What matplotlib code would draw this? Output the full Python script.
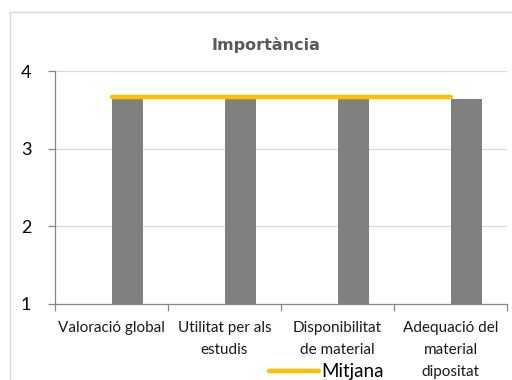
import matplotlib.pyplot as plt
import matplotlib.patches as patches
import numpy as np

# data
categories = ["Valoració global", "Utilitat per als\nestudis",
              "Disponibilitat\nde material", "Adequació del\nmaterial\ndipositat"]
valors = [3.64, 3.65, 3.65, 3.64]
mitjana = [3.66, 3.66, 3.66, 3.66]
yticks = [1, 2, 3, 4]

plt.rcParams['font.family'] = ['Lato', 'DejaVu Sans']

fig = plt.figure(figsize=(5.12, 3.8), dpi=100)
ax = fig.add_axes([55 / 512, 1 - 304 / 380, (507 - 55) / 512, (304 - 71) / 380])

x = np.arange(len(categories))
ax.bar(x, [v - 1 for v in valors], bottom=1, width=0.283, align='edge',
       color='#808080', zorder=2)
line, = ax.plot(x, mitjana, color='#ffc000', lw=3.2, solid_capstyle='round', zorder=3)

ax.set_xlim(-0.5, len(categories) - 0.5)
ax.set_ylim(1, 4)
ax.set_yticks(yticks)
ax.set_yticklabels([str(t) for t in yticks], fontsize=13, color='black')
ax.yaxis.grid(True, color='#d9d9d9', lw=0.9, zorder=0)
ax.tick_params(axis='y', length=5, width=0.9, color='#868686', pad=12)

ax.set_xticks(x)
ax.set_xticklabels(categories, fontsize=11, color='#1a1a1a', linespacing=1.75, va='top')
ax.set_xticks(np.arange(len(categories) + 1) - 0.5, minor=True)
ax.tick_params(axis='x', which='major', length=0, pad=12)
ax.tick_params(axis='x', which='minor', length=5, width=0.9, color='#868686')

for s in ['top', 'right']:
    ax.spines[s].set_visible(False)
for s in ['left', 'bottom']:
    ax.spines[s].set_color('#868686')
    ax.spines[s].set_linewidth(0.9)

fig.text(266 / 512, 1 - 45 / 380, "Importància", ha='center', va='center',
         fontsize=11.5, fontweight='bold', color='#595959', family='DejaVu Sans')

fig.legend([line], ["Mitjana"], loc='center', bbox_to_anchor=(326 / 512, 1 - 372 / 380),
           frameon=False, fontsize=13.5, handlelength=2.7, handletextpad=0.1,
           borderpad=0)

fig.add_artist(patches.Rectangle((10 / 512, -0.1), 1, 1 - 12 / 380 + 0.1,
                                 transform=fig.transFigure, fill=False,
                                 edgecolor='#d9d9d9', lw=1))

fig.savefig("out.png", dpi=100)
